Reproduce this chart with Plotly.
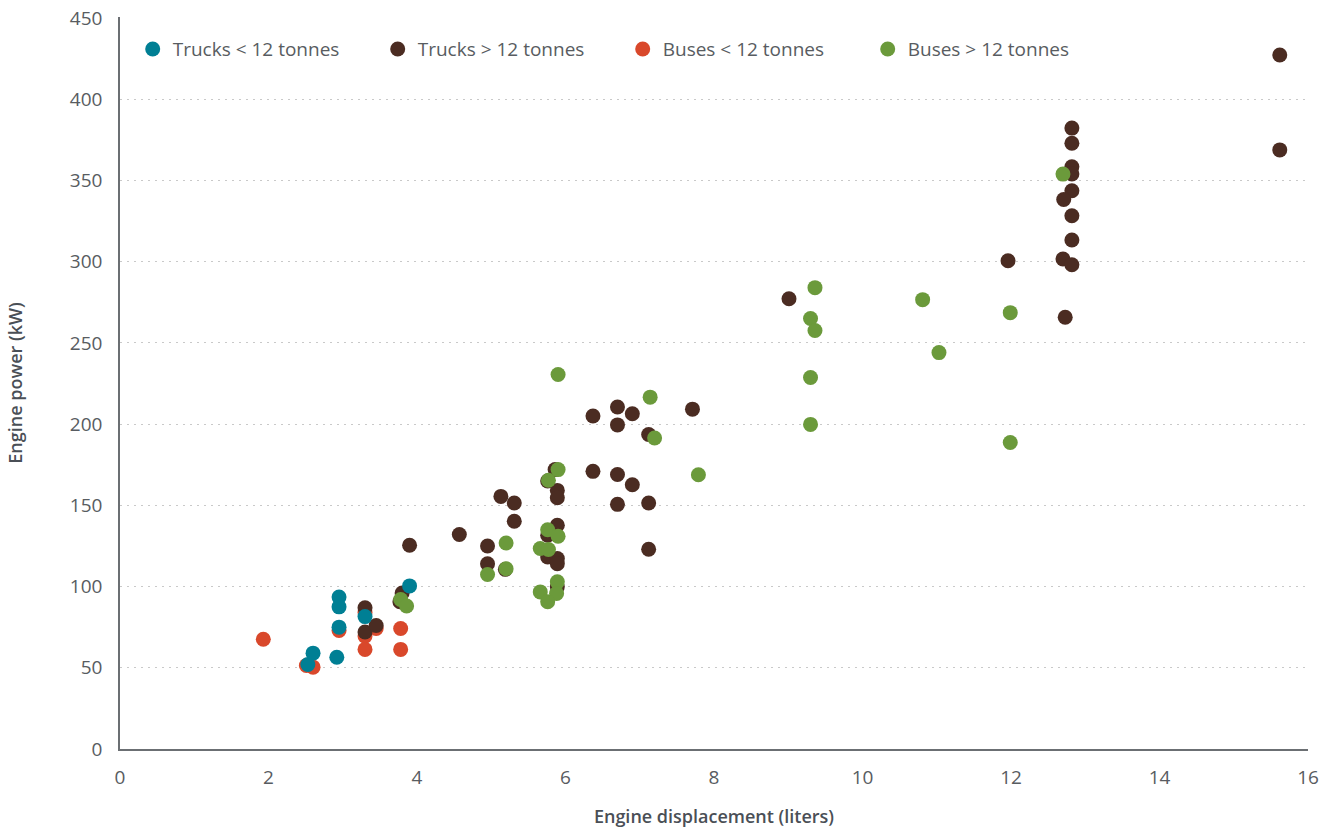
import plotly.graph_objects as go

# Trucks < 12 tonnes
trucks_small_x = [2.53, 2.60, 2.95, 2.95, 2.95, 2.92, 3.30, 3.90]
trucks_small_y = [52, 59, 93.5, 87.5, 75, 56.5, 81.5, 100.4]

# Trucks > 12 tonnes
trucks_large_x = [3.30, 3.30, 3.45, 3.80, 3.77, 3.90, 4.57, 4.95, 4.95, 5.13, 5.31, 5.31, 5.19,
                  5.89, 5.89, 5.89, 5.76, 5.76, 5.89, 5.89, 5.89, 5.76, 5.86,
                  6.37, 6.70, 6.90, 6.70, 7.12, 7.71, 6.37, 6.70, 6.90, 6.70, 7.12, 7.12,
                  9.01, 11.96, 12.82, 12.82, 12.82, 12.82, 12.82, 12.71, 12.82, 12.82, 12.70,
                  12.82, 12.73, 15.62, 15.62]
trucks_large_y = [86.9, 72, 76, 96, 90.6, 125.4, 132, 125, 114, 155.5, 151.4, 140.2, 110.6,
                  159.2, 154.7, 137.7, 131.6, 118.2, 117.2, 114.1, 99.8, 165, 172,
                  205, 210.5, 206.4, 199.5, 193.6, 209.2, 170.9, 169, 162.7, 150.6, 151.4, 123,
                  277.2, 300.6, 382.2, 372.9, 358.4, 354, 343.6, 338.3, 328.3, 313.3, 301.6,
                  298.1, 265.8, 427.2, 368.8]

# Buses < 12 tonnes
buses_small_x = [1.93, 2.51, 2.60, 2.95, 3.30, 3.30, 3.30, 3.45, 3.78, 3.78]
buses_small_y = [67.6, 51.4, 50.4, 73, 84, 69.5, 61.3, 74.2, 74.2, 61.3]

# Buses > 12 tonnes
buses_large_x = [3.78, 3.86, 4.95, 5.20, 5.20, 5.90, 5.77, 5.76, 5.90, 5.66, 5.77, 5.89, 5.66,
                 5.88, 5.76, 5.90, 7.14, 7.20, 7.79, 9.36, 9.30, 9.36, 9.30, 9.30, 10.81,
                 11.03, 11.99, 11.99, 12.70]
buses_large_y = [92, 88, 107.4, 126.8, 111, 172, 165.4, 135, 131, 123.4, 122.8, 102.9, 96.7,
                 95.7, 90.6, 230.5, 216.6, 191.4, 168.8, 284, 265, 257.6, 228.7, 199.8, 276.6,
                 244, 268.6, 188.7, 353.9]

x_ticks = [0, 2, 4, 6, 8, 10, 12, 14, 16]
y_ticks = [0, 50, 100, 150, 200, 250, 300, 350, 400, 450]

FONT = "Open Sans"
TEXT = "#585c61"
TITLE = "#4a4f56"

series = [
    ("Buses < 12 tonnes", buses_small_x, buses_small_y, "#d9482b", 3),
    ("Trucks > 12 tonnes", trucks_large_x, trucks_large_y, "#4b2c22", 2),
    ("Buses > 12 tonnes", buses_large_x, buses_large_y, "#6b9a3b", 4),
    ("Trucks < 12 tonnes", trucks_small_x, trucks_small_y, "#007f94", 1),
]

fig = go.Figure()
for name, xs, ys, color, rank in series:
    fig.add_trace(go.Scatter(
        x=xs, y=ys, mode="markers", name=name, legendrank=rank,
        marker=dict(size=15, color=color, line=dict(width=0)),
    ))

fig.update_layout(
    width=1331, height=828,
    margin=dict(l=120, r=23, t=17, b=79, autoexpand=False),
    paper_bgcolor="white", plot_bgcolor="white",
    font=dict(family=FONT, size=17, color=TEXT),
    showlegend=True,
    legend=dict(orientation="h", x=0.0107, y=0.982, xanchor="left", yanchor="top",
                font=dict(family=FONT, size=19, color=TEXT),
                itemwidth=30, entrywidth=200, entrywidthmode="pixels",
                bgcolor="rgba(0,0,0,0)", traceorder="normal"),
    xaxis=dict(
        range=[0, 16], tickvals=x_ticks, ticktext=[str(v) for v in x_ticks],
        showgrid=False, zeroline=False, showline=True, linecolor="#6b6f73", linewidth=1.5,
        ticks="", ticklabelstandoff=10, automargin=False, ticklabeloverflow="allow",
        tickfont=dict(family=FONT, size=19, color=TEXT),
        title=dict(text="Engine displacement (liters)", standoff=24,
                   font=dict(family=FONT, size=18, color=TITLE, weight=600)),
    ),
    yaxis=dict(
        range=[0, 450.6], tickvals=y_ticks, ticktext=[str(v) for v in y_ticks],
        showgrid=True, gridcolor="#c9c9c9", griddash="2px,5px", gridwidth=1,
        zeroline=False, showline=True, linecolor="#6b6f73", linewidth=1.5,
        ticks="", ticklabelstandoff=12, automargin=False, ticklabeloverflow="allow",
        tickfont=dict(family=FONT, size=19, color=TEXT),
        title=dict(text="Engine power (kW)", standoff=43,
                   font=dict(family=FONT, size=18, color=TITLE, weight=600)),
    ),
)

fig.write_html("out.html",
               config={"displayModeBar": False},
               post_script="document.body.style.margin='0';document.body.style.overflow='hidden';")
